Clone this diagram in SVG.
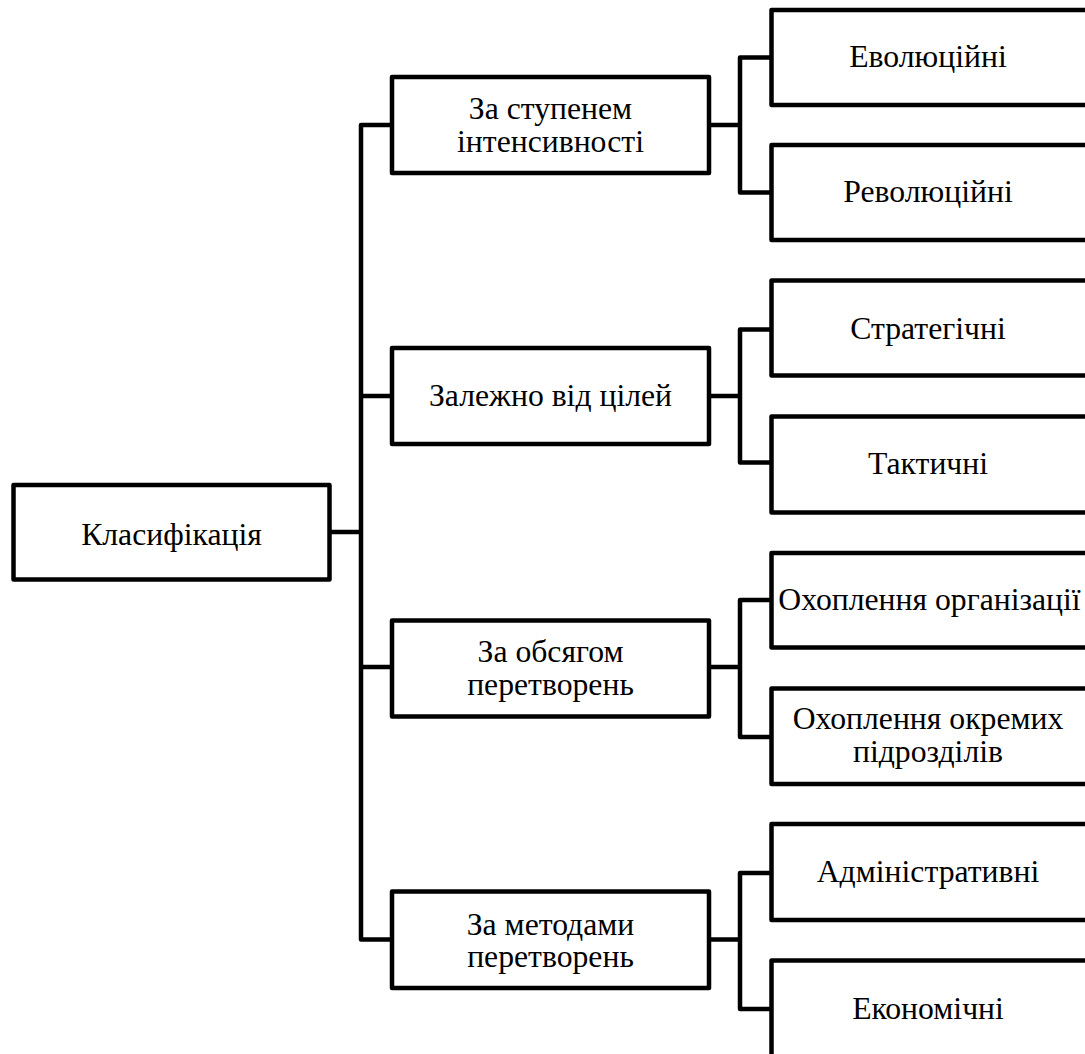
<svg xmlns="http://www.w3.org/2000/svg" width="1085" height="1054" viewBox="0 0 1085 1054">
<style>
.box{fill:#fff;stroke:#000;stroke-width:4.5;stroke-linejoin:round}
.con{fill:none;stroke:#000;stroke-width:4.5;stroke-linejoin:round}
.t{font-family:'Liberation Serif','Times New Roman',serif;font-size:31.7px;fill:#000;text-anchor:middle}
</style>
<rect width="1085" height="1054" fill="#fff"/>
<g id="connectors">
<path class="con" d="M329.5 532H361"/>
<path class="con" d="M392 125H361V939.5H392M361 396H392M361 667H392"/>
<path class="con" d="M709 125H740M772 57.5H740V192.5H772"/>
<path class="con" d="M709 396H740M772 329.5H740V462.5H772"/>
<path class="con" d="M709 667H740M772 600H740V737H772"/>
<path class="con" d="M709 939.5H740M772 873H740V1009H772"/>
</g>
<g class="t">
<g id="root"><rect class="box" x="13.5" y="485" width="316" height="94.5"/><text x="171.5" y="545">Класифікація</text></g>
<g id="n-intensity"><rect class="box" x="392" y="77" width="317" height="96"/><text x="550.5" y="118.5">За ступенем</text><text x="550.5" y="151.5">інтенсивності</text></g>
<g id="n-goals"><rect class="box" x="392" y="348" width="317" height="96"/><text x="550.5" y="405.5">Залежно від цілей</text></g>
<g id="n-scope"><rect class="box" x="392" y="620.5" width="317" height="96"/><text x="550.5" y="661.5">За обсягом</text><text x="550.5" y="694.5">перетворень</text></g>
<g id="n-methods"><rect class="box" x="392" y="891.5" width="317" height="96.5"/><text x="550.5" y="935">За методами</text><text x="550.5" y="967">перетворень</text></g>
<g id="c-evol"><rect class="box" x="771.5" y="10" width="340" height="95"/><text x="928" y="66.5">Еволюційні</text></g>
<g id="c-revol"><rect class="box" x="771.5" y="145" width="340" height="95"/><text x="928" y="201.5">Революційні</text></g>
<g id="c-strat"><rect class="box" x="771.5" y="280.5" width="340" height="95"/><text x="928" y="338.5">Стратегічні</text></g>
<g id="c-tact"><rect class="box" x="771.5" y="416.5" width="340" height="96"/><text x="928" y="473.5">Тактичні</text></g>
<g id="c-org"><rect class="box" x="771.5" y="553" width="340" height="94.5"/><text x="929.5" y="610">Охоплення організації</text></g>
<g id="c-units"><rect class="box" x="771.5" y="688.5" width="340" height="95.5"/><text x="928" y="728.5">Охоплення окремих</text><text x="928" y="761.5">підрозділів</text></g>
<g id="c-admin"><rect class="box" x="771.5" y="824" width="340" height="96"/><text x="928" y="881.5">Адміністративні</text></g>
<g id="c-econ"><rect class="box" x="771.5" y="960.5" width="340" height="97"/><text x="928" y="1018.5">Економічні</text></g>
</g>
</svg>
